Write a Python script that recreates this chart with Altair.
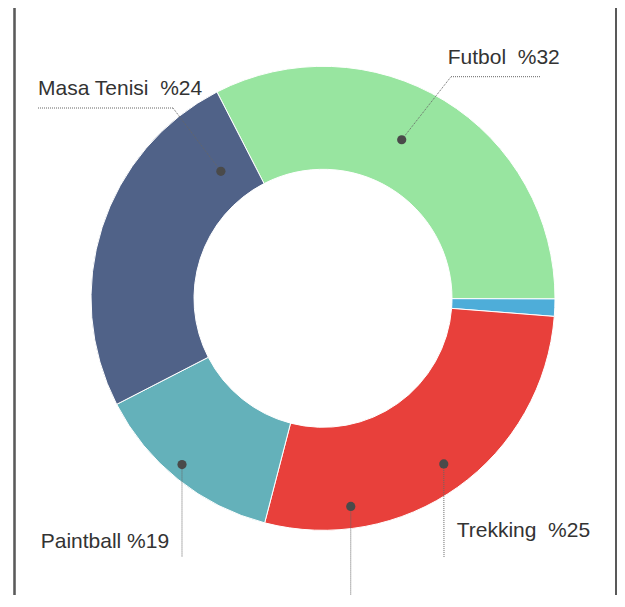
import math
import altair as alt
import pandas as pd

# ---- data ----
names = ["Futbol", "Diğer", "Trekking", "Paintball", "Masa Tenisi"]
values = [32.6, 1.2, 27.8, 13.4, 25.0]
colors = ["#98E5A0", "#4EADD9", "#E8403B", "#64B1BA", "#506288"]

label_texts = ["Futbol\u00a0 %32", "Masa Tenisi\u00a0 %24", "Paintball %19", "Trekking\u00a0 %25", ""]

# ---- layout (chart pixel coordinates) ----
W, H = 609, 587
CX, CY = 315, 290.3
R_OUT, R_IN = 232, 129
START = math.radians(-27.2)

# label anchors: dot polar position (deg, r), leader path points, text position
anchors = [
    dict(ang=26.4, r=177, path=[(443, 68.7), (533, 68.7)], tx=439.7, ty=55.5),
    dict(ang=-38.8, r=163, path=[(165, 100), (30, 100)], tx=30, ty=87),
    dict(ang=220.3, r=218, path=[(174, 549)], tx=32.7, ty=540),
    dict(ang=143.9, r=205, path=[(436, 549)], tx=448.7, ty=529),
    dict(ang=172.4, r=210, path=[(342.7, 640)], tx=0, ty=-50),
]

slices = pd.DataFrame({"name": names, "value": values, "idx": range(len(names))})

seg_rows, dot_rows, txt_rows = [], [], []
for i, a in enumerate(anchors):
    t = math.radians(a["ang"])
    dx, dy = CX + a["r"] * math.sin(t), CY - a["r"] * math.cos(t)
    dot_rows.append({"x": dx, "y": dy})
    pts = [(dx, dy)] + a["path"]
    for j in range(len(pts) - 1):
        seg_rows.append({"x": pts[j][0], "y": pts[j][1], "x2": pts[j + 1][0], "y2": pts[j + 1][1]})
    if label_texts[i]:
        txt_rows.append({"x": a["tx"], "y": a["ty"], "label": label_texts[i]})

segs = pd.DataFrame(seg_rows)
dots = pd.DataFrame(dot_rows)
txts = pd.DataFrame(txt_rows)

xs = alt.Scale(domain=[0, W], range=[0, W])
ys = alt.Scale(domain=[0, H], range=[0, H])

arcs = alt.Chart(slices).mark_arc(
    radius=R_OUT, radius2=R_IN, stroke="white", strokeWidth=1
).encode(
    theta=alt.Theta("value:Q", stack=True,
                    scale=alt.Scale(range=[START, START + 2 * math.pi])),
    color=alt.Color("name:N", scale=alt.Scale(domain=names, range=colors), legend=None),
    order=alt.Order("idx:Q"),
    x=alt.value(CX),
    y=alt.value(CY),
)

leaders = alt.Chart(segs).mark_rule(
    color="#666666", strokeWidth=1, strokeDash=[1, 1]
).encode(
    x=alt.X("x:Q", scale=xs, axis=None),
    y=alt.Y("y:Q", scale=ys, axis=None),
    x2="x2:Q",
    y2="y2:Q",
)

dot_layer = alt.Chart(dots).mark_circle(size=85, color="#4A4A4A", opacity=1).encode(
    x=alt.X("x:Q", scale=xs, axis=None),
    y=alt.Y("y:Q", scale=ys, axis=None),
)

text_layer = alt.Chart(txts).mark_text(
    align="left", baseline="alphabetic", fontSize=21,
    font="Liberation Sans", color="#333333"
).encode(
    x=alt.X("x:Q", scale=xs, axis=None),
    y=alt.Y("y:Q", scale=ys, axis=None),
    text="label:N",
)

frame_l = alt.Chart(slices).mark_rule(color="#5a5a5a", strokeWidth=1.5).encode(
    x=alt.value(6.5), y=alt.value(0), y2=alt.value(H)
)
frame_r = alt.Chart(slices).mark_rule(color="#5a5a5a", strokeWidth=1.5).encode(
    x=alt.value(608), y=alt.value(0), y2=alt.value(H)
)

chart = alt.layer(arcs, leaders, dot_layer, text_layer, frame_l, frame_r).properties(
    width=W, height=H, padding=0,
    autosize=alt.AutoSizeParams(type="none"),
).configure_view(stroke=None)

chart.save("out.html", embed_options={"renderer": "svg", "actions": False})
